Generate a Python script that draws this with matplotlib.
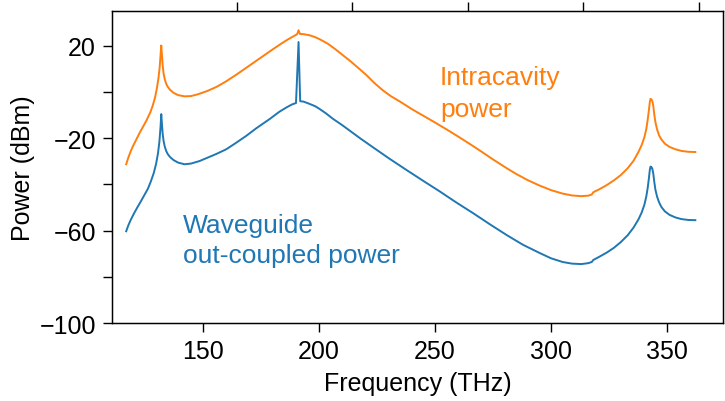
import matplotlib
matplotlib.use("Agg")
import matplotlib.pyplot as plt

plt.rcParams["font.family"] = ["Liberation Sans", "DejaVu Sans"]

# intracavity power
f_intra = [117.1, 118.0, 119.0, 120.0, 121.5, 123.0, 124.5, 126.0, 127.5, 128.5,
           129.5, 130.3, 131.0, 131.5, 131.9, 132.2, 132.5, 132.8, 133.2, 133.7,
           134.3, 135.0, 136.0, 137.5, 139.5, 142.2, 145.0, 148.0, 152.0, 156.0,
           160.0, 165.0, 170.0, 175.0, 180.0, 184.0, 187.0, 189.5, 190.7, 191.3,
           191.9, 193.5, 196.1, 198.5, 201.0, 204.0, 207.0, 210.0, 213.4, 217.0,
           220.6, 224.0, 227.7, 231.0, 235.0, 240.0, 245.0, 250.0, 255.0, 260.0,
           265.0, 270.0, 275.0, 280.9, 285.0, 290.0, 295.0, 300.0, 305.0, 309.0,
           313.0, 316.0, 317.5, 318.2, 321.0, 324.0, 327.0, 330.0, 333.0, 335.5,
           337.6, 339.0, 340.2, 341.0, 341.6, 342.1, 342.5, 342.8, 343.2, 343.6,
           344.0, 344.4, 344.9, 345.6, 346.5, 347.5, 349.0, 351.0, 353.5, 356.0,
           359.0, 362.1]
p_intra = [-31.3, -28.5, -25.8, -23.5, -20.5, -17.5, -14.8, -12.0, -8.8, -6.0,
           -2.5, 1.5, 6.0, 10.5, 16.0, 20.1, 16.0, 11.5, 8.0, 5.5,
           3.6, 2.2, 0.9, -0.4, -1.4, -1.9, -1.8, -1.0, 0.4, 2.2,
           4.5, 7.8, 11.3, 14.8, 18.3, 21.0, 22.9, 24.3, 25.0, 26.7,
           25.1, 25.0, 24.5, 23.7, 22.5, 20.8, 18.6, 16.2, 13.5, 10.4,
           7.2, 3.8, 0.6, -1.8, -4.2, -7.4, -10.3, -13.2, -16.2, -19.3,
           -22.5, -25.8, -29.2, -33.0, -35.5, -38.2, -40.5, -42.5, -44.0, -44.8,
           -45.1, -44.9, -44.4, -43.4, -42.0, -40.3, -38.3, -36.0, -33.0, -29.8,
           -26.0, -23.0, -19.5, -16.0, -12.0, -8.0, -4.5, -3.0, -3.2, -4.0,
           -6.0, -9.5, -13.0, -16.1, -18.8, -20.6, -22.4, -23.8, -24.8, -25.5,
           -25.9, -26.0]

# waveguide out-coupled power
f_wg = [117.1, 118.0, 119.0, 120.5, 122.0, 123.5, 125.0, 126.5, 127.8, 129.0,
        130.0, 130.8, 131.4, 131.9, 132.2, 132.5, 132.8, 133.2, 133.7, 134.3,
        135.0, 136.0, 137.5, 139.5, 142.2, 145.0, 148.7, 152.0, 156.0, 160.2,
        164.0, 168.8, 173.0, 178.9, 183.0, 186.1, 188.5, 190.2, 191.3, 192.0,
        193.5, 196.1, 198.5, 200.4, 203.0, 206.2, 210.0, 213.4, 218.0, 223.4,
        230.0, 237.8, 245.0, 252.0, 259.0, 266.5, 274.0, 281.0, 288.0, 295.3,
        300.0, 305.0, 309.0, 313.0, 316.0, 317.5, 318.2, 321.0, 324.0, 327.0,
        330.0, 333.0, 335.5, 337.6, 339.0, 340.2, 341.0, 341.6, 342.1, 342.5,
        342.8, 343.2, 343.6, 344.0, 344.4, 344.9, 345.6, 346.5, 347.5, 349.0,
        351.0, 353.5, 356.0, 359.0, 362.1]
p_wg = [-60.3, -57.8, -55.5, -52.5, -49.8, -47.2, -44.5, -41.8, -38.5, -35.0,
        -31.0, -26.5, -21.5, -15.0, -9.6, -14.0, -18.0, -21.2, -23.6, -25.5,
        -26.9, -28.2, -29.5, -30.6, -31.3, -31.0, -29.9, -28.5, -26.8, -24.8,
        -22.3, -19.0, -15.8, -11.7, -8.6, -6.7, -5.4, -4.8, 21.6, -4.0,
        -4.2, -5.2, -6.2, -7.4, -9.2, -11.7, -14.3, -16.8, -20.2, -24.0,
        -28.6, -33.8, -38.5, -43.0, -47.7, -52.5, -57.5, -62.0, -66.2, -69.8,
        -72.0, -73.6, -74.3, -74.5, -74.1, -73.6, -72.7, -71.2, -69.5, -67.5,
        -65.0, -62.0, -58.7, -55.2, -52.2, -48.7, -45.2, -41.5, -37.5, -33.8,
        -32.3, -32.5, -33.3, -35.3, -38.7, -42.2, -45.2, -47.8, -49.8, -51.7,
        -53.2, -54.3, -55.0, -55.4, -55.5]

x_ticks = [150, 200, 250, 300, 350]
top_ticks = [164.7, 214.5, 264.2, 313.8, 363.8]
y_ticks = [-100, -80, -60, -40, -20, 0, 20]
y_labels = ["\u2212100", "", "\u221260", "", "\u221220", "", "20"]

orange = "#ff7f0e"
blue = "#1f77b4"

fig = plt.figure(figsize=(7.25, 4.02), dpi=100)
ax = fig.add_axes([0.1545, 0.194, 0.8427, 0.776])

ax.plot(f_intra, p_intra, color=orange, lw=1.4)
ax.plot(f_wg, p_wg, color=blue, lw=1.4)

ax.set_xlim(111, 374)
ax.set_ylim(-100, 35)
ax.set_xticks(x_ticks)
ax.set_yticks(y_ticks)
ax.set_yticklabels(y_labels)
ax.tick_params(axis="both", direction="out", length=6.5, width=1.0,
               labelsize=18, pad=5)
for s in ax.spines.values():
    s.set_linewidth(1.0)

top = ax.twiny()
top.set_xlim(ax.get_xlim())
top.set_xticks(top_ticks)
top.set_xticklabels([])
top.tick_params(axis="x", direction="out", length=6.5, width=1.0)

ax.set_xlabel("Frequency (THz)", fontsize=18, labelpad=6)
ax.set_ylabel("Power (dBm)", fontsize=18, labelpad=3)

ax.text(252.2, 3.5, "Intracavity", color=orange, fontsize=19)
ax.text(252.2, -10.6, "power", color=orange, fontsize=19)
ax.text(141.4, -60.4, "Waveguide", color=blue, fontsize=19)
ax.text(141.4, -73.6, "out-coupled power", color=blue, fontsize=19)

fig.savefig("out.png", dpi=100)
plt.close(fig)
